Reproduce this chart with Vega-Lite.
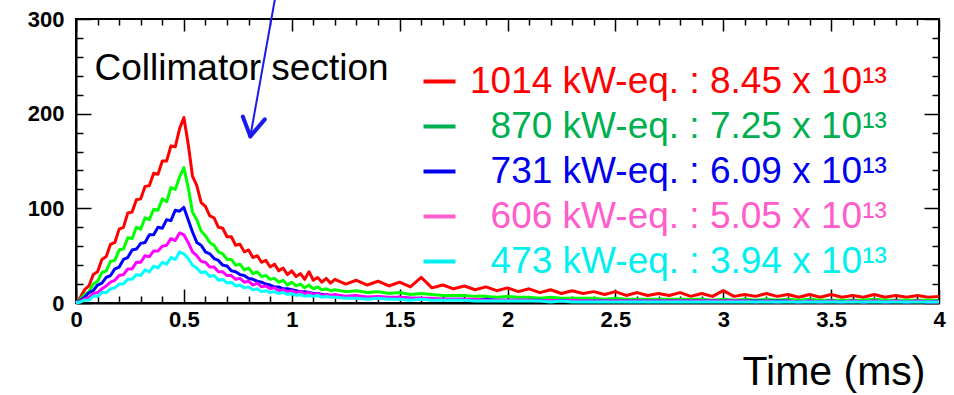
{
  "$schema": "https://vega.github.io/schema/vega-lite/v6.json",
  "width": 863,
  "height": 284,
  "autosize": {"type": "none"},
  "padding": {"left": 76, "top": 19, "right": 15, "bottom": 92},
  "background": "white",
  "config": {"font": "Liberation Sans", "view": {"stroke": "black", "strokeWidth": 2},
    "axis": {"labelFontSize": 22, "labelFont": "Liberation Sans", "labelFontWeight": "bold", "labelColor": "black"}},
  "datasets": {"one": [{}]},
  "data": {"values": [
    {"t":0,"r":0,"g":0,"b":0,"m":0,"c":0},
    {"t":0.02,"r":6,"g":4,"b":3,"m":2,"c":1},
    {"t":0.04,"r":14,"g":9,"b":6,"m":4,"c":3},
    {"t":0.06,"r":18,"g":12,"b":11,"m":6,"c":3},
    {"t":0.08,"r":30,"g":20,"b":13,"m":10,"c":7},
    {"t":0.10,"r":33,"g":23,"b":19,"m":11,"c":7},
    {"t":0.12,"r":46,"g":32,"b":21,"m":15,"c":11},
    {"t":0.14,"r":49,"g":34,"b":27,"m":18,"c":11},
    {"t":0.16,"r":62,"g":44,"b":29,"m":22,"c":15},
    {"t":0.18,"r":64,"g":45,"b":36,"m":24,"c":16},
    {"t":0.20,"r":78,"g":56,"b":38,"m":29,"c":20},
    {"t":0.22,"r":80,"g":57,"b":46,"m":30,"c":20},
    {"t":0.24,"r":95,"g":69,"b":48,"m":36,"c":25},
    {"t":0.26,"r":96,"g":68,"b":56,"m":36,"c":25},
    {"t":0.28,"r":109,"g":80,"b":57,"m":43,"c":30},
    {"t":0.30,"r":110,"g":78,"b":63,"m":43,"c":29},
    {"t":0.32,"r":123,"g":90,"b":64,"m":50,"c":35},
    {"t":0.34,"r":124,"g":88,"b":72,"m":49,"c":33},
    {"t":0.36,"r":137,"g":99,"b":72,"m":55,"c":39},
    {"t":0.38,"r":136,"g":98,"b":80,"m":55,"c":37},
    {"t":0.40,"r":150,"g":110,"b":79,"m":60,"c":43},
    {"t":0.42,"r":150,"g":107,"b":88,"m":61,"c":41},
    {"t":0.44,"r":166,"g":122,"b":87,"m":68,"c":48},
    {"t":0.46,"r":165,"g":120,"b":98,"m":66,"c":46},
    {"t":0.48,"r":184,"g":133,"b":97,"m":74,"c":54},
    {"t":0.50,"r":196,"g":143,"b":101,"m":72,"c":52},
    {"t":0.52,"r":168,"g":122,"b":88,"m":64,"c":47},
    {"t":0.54,"r":134,"g":96,"b":75,"m":54,"c":40},
    {"t":0.56,"r":124,"g":88,"b":64,"m":50,"c":37},
    {"t":0.58,"r":106,"g":76,"b":61,"m":44,"c":32},
    {"t":0.60,"r":102,"g":71,"b":54,"m":43,"c":33},
    {"t":0.62,"r":92,"g":64,"b":52,"m":38,"c":28},
    {"t":0.64,"r":90,"g":61,"b":47,"m":38,"c":29},
    {"t":0.66,"r":80,"g":54,"b":45,"m":33,"c":24},
    {"t":0.68,"r":79,"g":52,"b":40,"m":33,"c":25},
    {"t":0.70,"r":70,"g":46,"b":39,"m":29,"c":21},
    {"t":0.72,"r":70,"g":46,"b":34,"m":29,"c":22},
    {"t":0.74,"r":61,"g":40,"b":33,"m":25,"c":18},
    {"t":0.76,"r":62,"g":41,"b":30,"m":26,"c":19},
    {"t":0.78,"r":54,"g":35,"b":29,"m":22,"c":16},
    {"t":0.80,"r":56,"g":37,"b":26,"m":23,"c":17},
    {"t":0.82,"r":48,"g":31,"b":25,"m":19,"c":14},
    {"t":0.84,"r":50,"g":33,"b":23,"m":21,"c":15},
    {"t":0.86,"r":43,"g":28,"b":22,"m":17,"c":12},
    {"t":0.88,"r":45,"g":29,"b":20,"m":18,"c":13},
    {"t":0.90,"r":38,"g":25,"b":19,"m":15,"c":11},
    {"t":0.92,"r":41,"g":26,"b":17,"m":16,"c":12},
    {"t":0.94,"r":34,"g":22,"b":17,"m":13,"c":10},
    {"t":0.96,"r":37,"g":24,"b":15,"m":14,"c":11},
    {"t":0.98,"r":30,"g":19,"b":15,"m":12,"c":9},
    {"t":1.00,"r":34,"g":22,"b":14,"m":13,"c":10},
    {"t":1.02,"r":28,"g":18,"b":13,"m":11,"c":8},
    {"t":1.04,"r":31,"g":20,"b":12,"m":12,"c":9},
    {"t":1.06,"r":25,"g":16,"b":12,"m":10,"c":7},
    {"t":1.08,"r":33,"g":19,"b":11,"m":11,"c":8},
    {"t":1.10,"r":24,"g":15,"b":10,"m":9,"c":7},
    {"t":1.12,"r":27,"g":17,"b":10,"m":10,"c":8},
    {"t":1.14,"r":22,"g":14,"b":9,"m":8,"c":6},
    {"t":1.16,"r":26,"g":15,"b":9,"m":9,"c":7},
    {"t":1.18,"r":21,"g":13,"b":8,"m":8,"c":6},
    {"t":1.20,"r":25,"g":14,"b":8,"m":9,"c":6},
    {"t":1.25,"r":20,"g":12,"b":7,"m":7,"c":5},
    {"t":1.30,"r":24,"g":13,"b":7,"m":8,"c":5},
    {"t":1.35,"r":19,"g":11,"b":6,"m":6,"c":4},
    {"t":1.40,"r":23,"g":12,"b":6,"m":7,"c":5},
    {"t":1.45,"r":18,"g":10,"b":5,"m":6,"c":4},
    {"t":1.50,"r":22,"g":11,"b":6,"m":6,"c":4},
    {"t":1.55,"r":17,"g":9,"b":5,"m":5,"c":3},
    {"t":1.60,"r":27,"g":10,"b":5,"m":5,"c":4},
    {"t":1.65,"r":16,"g":9,"b":4,"m":5,"c":3},
    {"t":1.70,"r":19,"g":8,"b":4,"m":4,"c":3},
    {"t":1.75,"r":15,"g":8,"b":4,"m":4,"c":3},
    {"t":1.80,"r":18,"g":8,"b":4,"m":4,"c":3},
    {"t":1.85,"r":14,"g":7,"b":3,"m":4,"c":2},
    {"t":1.90,"r":17,"g":7,"b":4,"m":3,"c":2},
    {"t":1.95,"r":13,"g":6,"b":3,"m":3,"c":2},
    {"t":2.00,"r":16,"g":7,"b":3,"m":3,"c":2},
    {"t":2.05,"r":12,"g":6,"b":3,"m":3,"c":2},
    {"t":2.10,"r":15,"g":6,"b":3,"m":3,"c":2},
    {"t":2.15,"r":11,"g":5,"b":3,"m":2,"c":2},
    {"t":2.20,"r":14,"g":6,"b":2,"m":3,"c":1},
    {"t":2.25,"r":10,"g":5,"b":3,"m":2,"c":2},
    {"t":2.30,"r":13,"g":5,"b":2,"m":3,"c":1},
    {"t":2.35,"r":10,"g":5,"b":2,"m":2,"c":1},
    {"t":2.40,"r":12,"g":5,"b":2,"m":2,"c":1},
    {"t":2.45,"r":9,"g":4,"b":2,"m":2,"c":1},
    {"t":2.50,"r":12,"g":5,"b":2,"m":2,"c":1},
    {"t":2.55,"r":8,"g":4,"b":2,"m":2,"c":1},
    {"t":2.60,"r":11,"g":4,"b":2,"m":2,"c":1},
    {"t":2.65,"r":8,"g":4,"b":2,"m":2,"c":1},
    {"t":2.70,"r":10,"g":4,"b":2,"m":2,"c":1},
    {"t":2.75,"r":8,"g":4,"b":2,"m":2,"c":1},
    {"t":2.80,"r":11,"g":4,"b":2,"m":2,"c":1},
    {"t":2.85,"r":7,"g":4,"b":2,"m":2,"c":1},
    {"t":2.90,"r":10,"g":4,"b":2,"m":2,"c":1},
    {"t":2.95,"r":7,"g":3,"b":2,"m":2,"c":1},
    {"t":3.00,"r":13,"g":4,"b":2,"m":2,"c":1},
    {"t":3.05,"r":7,"g":3,"b":2,"m":2,"c":1},
    {"t":3.10,"r":9,"g":4,"b":2,"m":2,"c":1},
    {"t":3.15,"r":7,"g":3,"b":2,"m":1,"c":1},
    {"t":3.20,"r":10,"g":4,"b":2,"m":2,"c":1},
    {"t":3.25,"r":7,"g":3,"b":2,"m":1,"c":1},
    {"t":3.30,"r":9,"g":4,"b":2,"m":2,"c":1},
    {"t":3.35,"r":6,"g":3,"b":1,"m":1,"c":1},
    {"t":3.40,"r":9,"g":4,"b":2,"m":2,"c":1},
    {"t":3.45,"r":6,"g":3,"b":1,"m":1,"c":1},
    {"t":3.50,"r":9,"g":3,"b":2,"m":2,"c":1},
    {"t":3.55,"r":6,"g":3,"b":1,"m":1,"c":1},
    {"t":3.60,"r":8,"g":3,"b":2,"m":2,"c":1},
    {"t":3.65,"r":6,"g":3,"b":1,"m":1,"c":1},
    {"t":3.70,"r":9,"g":4,"b":2,"m":2,"c":1},
    {"t":3.75,"r":6,"g":3,"b":1,"m":1,"c":1},
    {"t":3.80,"r":8,"g":3,"b":2,"m":2,"c":1},
    {"t":3.85,"r":6,"g":3,"b":1,"m":1,"c":1},
    {"t":3.90,"r":8,"g":3,"b":2,"m":2,"c":1},
    {"t":3.95,"r":6,"g":3,"b":1,"m":1,"c":1},
    {"t":4.00,"r":7,"g":3,"b":2,"m":1,"c":1}
  ]},
  "resolve": {"axis": {"x": "independent", "y": "independent"}},
  "layer": [
    {
      "transform": [{"fold": ["r", "g", "b", "m", "c"], "as": ["entry", "v"]}],
      "mark": {"type": "line", "opacity": 0},
      "encoding": {
        "x": {"field": "t", "type": "quantitative", "scale": {"domain": [0, 4], "nice": false, "zero": false}, "axis": null},
        "y": {"field": "v", "type": "quantitative", "scale": {"domain": [0, 300], "nice": false, "zero": false}, "axis": null},
        "color": {"field": "entry", "type": "nominal",
          "scale": {"domain": ["r", "g", "b", "m", "c"], "range": ["#ff0000", "#00b050", "#0000ee", "#ff5ccc", "#00f0f0"]},
          "legend": {"orient": "none", "legendX": 345, "legendY": 44, "title": null, "padding": 0,
            "rowPadding": 7, "labelFont": "Liberation Sans", "labelFontSize": 37, "labelLimit": 0,
            "labelOffset": 12, "labelBaseline": "middle", "labelOpacity": 1, "symbolOpacity": 1,
            "symbolType": "stroke", "symbolSize": 1024, "symbolStrokeWidth": 4,
            "labelExpr": "{'r':'1014 kW-eq. : 8.45 x 10\u00b9\u00b3','g':'\u200b\u00a0\u00a0870 kW-eq. : 7.25 x 10\u00b9\u00b3','b':'\u200b\u00a0\u00a0731 kW-eq. : 6.09 x 10\u00b9\u00b3','m':'\u200b\u00a0\u00a0606 kW-eq. : 5.05 x 10\u00b9\u00b3','c':'\u200b\u00a0\u00a0473 kW-eq. : 3.94 x 10\u00b9\u00b3'}[datum.value]",
            "labelColor": {"expr": "{'r':'#ff0000','g':'#00b050','b':'#0000ee','m':'#ff5ccc','c':'#00f0f0'}[datum.value]"}
          }}
      }
    },
    {
      "transform": [{"fold": ["r", "g", "b", "m", "c"], "as": ["series", "v"]}],
      "mark": {"type": "line", "strokeWidth": 3, "strokeJoin": "round"},
      "encoding": {
        "x": {"field": "t", "type": "quantitative",
          "scale": {"domain": [0, 4], "nice": false, "zero": false},
          "axis": {"orient": "bottom", "values": [0, 0.5, 1, 1.5, 2, 2.5, 3, 3.5, 4], "format": "~g",
            "ticks": false, "grid": false, "domain": true, "domainColor": "black", "domainWidth": 2,
            "labelFont": "Liberation Sans", "labelFontWeight": "bold", "labelFontSize": 22, "labelColor": "black",
            "labelPadding": 6, "labelFlush": false, "labelOverlap": false,
            "title": "Time (ms)", "titleFont": "Liberation Sans", "titleFontSize": 41, "titleFontWeight": "normal",
            "titleColor": "black", "titleAnchor": "end", "titleAlign": "right", "titleBaseline": "alphabetic",
            "titleX": 849, "titleY": 81}},
        "y": {"field": "v", "type": "quantitative",
          "scale": {"domain": [0, 300], "nice": false, "zero": false},
          "axis": {"orient": "left", "values": [0, 100, 200, 300], "ticks": false, "grid": false,
            "domain": true, "domainColor": "black", "domainWidth": 2,
            "labelFont": "Liberation Sans", "labelFontWeight": "bold", "labelFontSize": 22, "labelColor": "black",
            "labelPadding": 12, "labelFlush": false, "labelOverlap": false, "title": null}},
        "stroke": {"field": "series", "type": "nominal",
          "scale": {"domain": ["r", "g", "b", "m", "c"], "range": ["#ff0000", "#00ff00", "#0000ff", "#ff00ff", "#00ffff"]},
          "legend": null}
      }
    },
    {
      "data": {"name": "one"},
      "mark": {"type": "rule", "color": "#1a1aee", "strokeWidth": 2},
      "encoding": {
        "x": {"datum": 0.922, "type": "quantitative", "scale": {"domain": [0, 4], "nice": false, "zero": false},
          "axis": {"orient": "bottom", "values": [0,0.1,0.2,0.3,0.4,0.5,0.6,0.7,0.8,0.9,1,1.1,1.2,1.3,1.4,1.5,1.6,1.7,1.8,1.9,2,2.1,2.2,2.3,2.4,2.5,2.6,2.7,2.8,2.9,3,3.1,3.2,3.3,3.4,3.5,3.6,3.7,3.8,3.9,4],
            "labels": false, "domain": false, "grid": false, "ticks": true, "tickColor": "black", "tickWidth": 1.5,
            "tickSize": {"condition": {"test": "abs(datum.value*2-round(datum.value*2))<0.01", "value": -14}, "value": -7},
            "title": null}},
        "y": {"datum": 321, "type": "quantitative", "scale": {"domain": [0, 300], "nice": false, "zero": false},
          "axis": {"orient": "left", "values": [0,20,40,60,80,100,120,140,160,180,200,220,240,260,280,300],
            "labels": false, "domain": false, "grid": false, "ticks": true, "tickColor": "black", "tickWidth": 1.5,
            "tickSize": {"condition": {"test": "datum.value%100==0", "value": -15}, "value": -7},
            "title": null}},
        "x2": {"datum": 0.808},
        "y2": {"datum": 176}
      }
    },
    {
      "data": {"name": "one"},
      "mark": {"type": "text", "text": "Collimator section", "font": "Liberation Sans", "fontSize": 37, "align": "left", "baseline": "alphabetic", "color": "black"},
      "encoding": {
        "x": {"datum": 0.086, "type": "quantitative", "scale": {"domain": [0, 4], "nice": false, "zero": false},
          "axis": {"orient": "top", "values": [0,0.1,0.2,0.3,0.4,0.5,0.6,0.7,0.8,0.9,1,1.1,1.2,1.3,1.4,1.5,1.6,1.7,1.8,1.9,2,2.1,2.2,2.3,2.4,2.5,2.6,2.7,2.8,2.9,3,3.1,3.2,3.3,3.4,3.5,3.6,3.7,3.8,3.9,4],
            "labels": false, "domain": false, "grid": false, "ticks": true, "tickColor": "black", "tickWidth": 1.5,
            "tickSize": {"condition": {"test": "abs(datum.value*2-round(datum.value*2))<0.01", "value": -12}, "value": -6},
            "title": null}},
        "y": {"datum": 236, "type": "quantitative", "scale": {"domain": [0, 300], "nice": false, "zero": false},
          "axis": {"orient": "right", "values": [0,20,40,60,80,100,120,140,160,180,200,220,240,260,280,300],
            "labels": false, "domain": false, "grid": false, "ticks": true, "tickColor": "black", "tickWidth": 1.5,
            "tickSize": {"condition": {"test": "datum.value%100==0", "value": -15}, "value": -7},
            "title": null}}
      }
    },
    {
      "data": {"name": "one"},
      "mark": {"type": "rule", "color": "#1a1aee", "strokeWidth": 4, "strokeCap": "round"},
      "encoding": {
        "x": {"datum": 0.773, "type": "quantitative", "axis": null},
        "y": {"datum": 197, "type": "quantitative", "axis": null},
        "x2": {"datum": 0.808},
        "y2": {"datum": 176}
      }
    },
    {
      "data": {"name": "one"},
      "mark": {"type": "rule", "color": "#1a1aee", "strokeWidth": 4, "strokeCap": "round"},
      "encoding": {
        "x": {"datum": 0.875, "type": "quantitative", "axis": null},
        "y": {"datum": 194, "type": "quantitative", "axis": null},
        "x2": {"datum": 0.808},
        "y2": {"datum": 176}
      }
    }
  ]
}
